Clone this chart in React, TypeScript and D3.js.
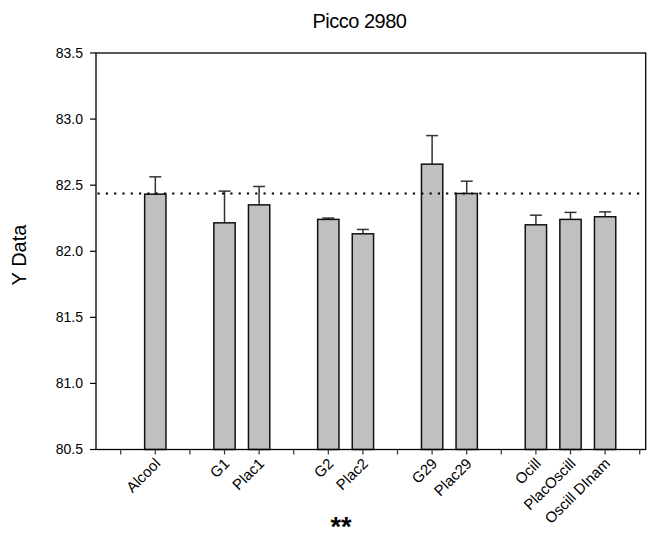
import React from "react";
import * as d3 from "d3";

const title = "Picco 2980";
const yLabel = "Y Data";
const xLabel = "**";
const categories = ["Alcool", "G1", "Plac1", "G2", "Plac2", "G29", "Plac29", "Ocill", "PlacOscill", "Oscill DInam"];
const slots = [1, 3, 4, 6, 7, 9, 10, 12, 13, 14];
const tickSlots = d3.range(0, 16);
const values = [82.432, 82.215, 82.351, 82.241, 82.132, 82.659, 82.437, 82.2, 82.241, 82.261];
const errors = [0.131, 0.24, 0.139, 0.01, 0.033, 0.216, 0.093, 0.073, 0.053, 0.037];
const refLine = 82.437;
const yTicks = [80.5, 81.0, 81.5, 82.0, 82.5, 83.0, 83.5];

const W = 647, H = 542;
const L = 96, R = 645.7, T = 53, B = 449.5;
const font = "'Liberation Sans', Arial, sans-serif";

export default function App() {
  const x = d3.scaleLinear().domain([-0.714, 15.173]).range([L, R]);
  const y = d3.scaleLinear().domain([80.5, 83.5]).range([B, T]);
  const slotW = x(1) - x(0);
  const bw = slotW * 0.616;
  const capW = 12;
  const fmt = d3.format(".1f");
  return (
    <svg width={W} height={H} style={{ position: "absolute", left: 0, top: 0, background: "#fff" }} fontFamily={font}>
      <rect x={0} y={0} width={W} height={H} fill="#fff" />
      <text x={359.5} y={28} textAnchor="middle" fontSize={20} letterSpacing={-0.5}>{title}</text>
      {/* bars */}
      {values.map((v, i) => {
        const cx = x(slots[i]);
        return (
          <g key={categories[i]}>
            <line x1={cx} x2={cx} y1={y(v)} y2={y(v + errors[i])} stroke="#333" strokeWidth={1.5} />
            <line x1={cx - capW / 2} x2={cx + capW / 2} y1={y(v + errors[i])} y2={y(v + errors[i])} stroke="#333" strokeWidth={1.5} />
            <rect x={cx - bw / 2} y={y(v)} width={bw} height={B - y(v)} fill="#c0c0c0" stroke="#111" strokeWidth={1.5} />
          </g>
        );
      })}
      {/* reference dotted line */}
      <line x1={L + 1.5} x2={R} y1={y(refLine)} y2={y(refLine)} stroke="#000" strokeWidth={2.2} strokeDasharray="2.2 6.1" />
      {/* frame */}
      <rect x={L} y={T} width={R - L} height={B - T} fill="none" stroke="#000" strokeWidth={1.3} />
      {/* y axis */}
      {yTicks.map((t) => (
        <g key={t}>
          <line x1={L - 6} x2={L} y1={y(t)} y2={y(t)} stroke="#000" strokeWidth={1.2} />
          <text x={L - 13} y={y(t)} dy="0.35em" textAnchor="end" fontSize={14}>{fmt(t)}</text>
        </g>
      ))}
      {/* x axis ticks */}
      {tickSlots.map((s) => (
        <line key={s} x1={x(s)} x2={x(s)} y1={B} y2={B + 5} stroke="#333" strokeWidth={1.2} />
      ))}
      {categories.map((c, i) => {
        const px = x(slots[i]) + 6;
        const py = B + 15;
        return (
          <text key={c} x={px} y={py} textAnchor="end" fontSize={15} transform={`rotate(-45 ${px} ${py})`}>{c}</text>
        );
      })}
      <text x={25.5} y={255} textAnchor="middle" fontSize={20} transform={`rotate(-90 ${25.5} ${255})`}>{yLabel}</text>
      <text x={341} y={536} textAnchor="middle" fontSize={27} fontWeight="bold">{xLabel}</text>
    </svg>
  );
}
